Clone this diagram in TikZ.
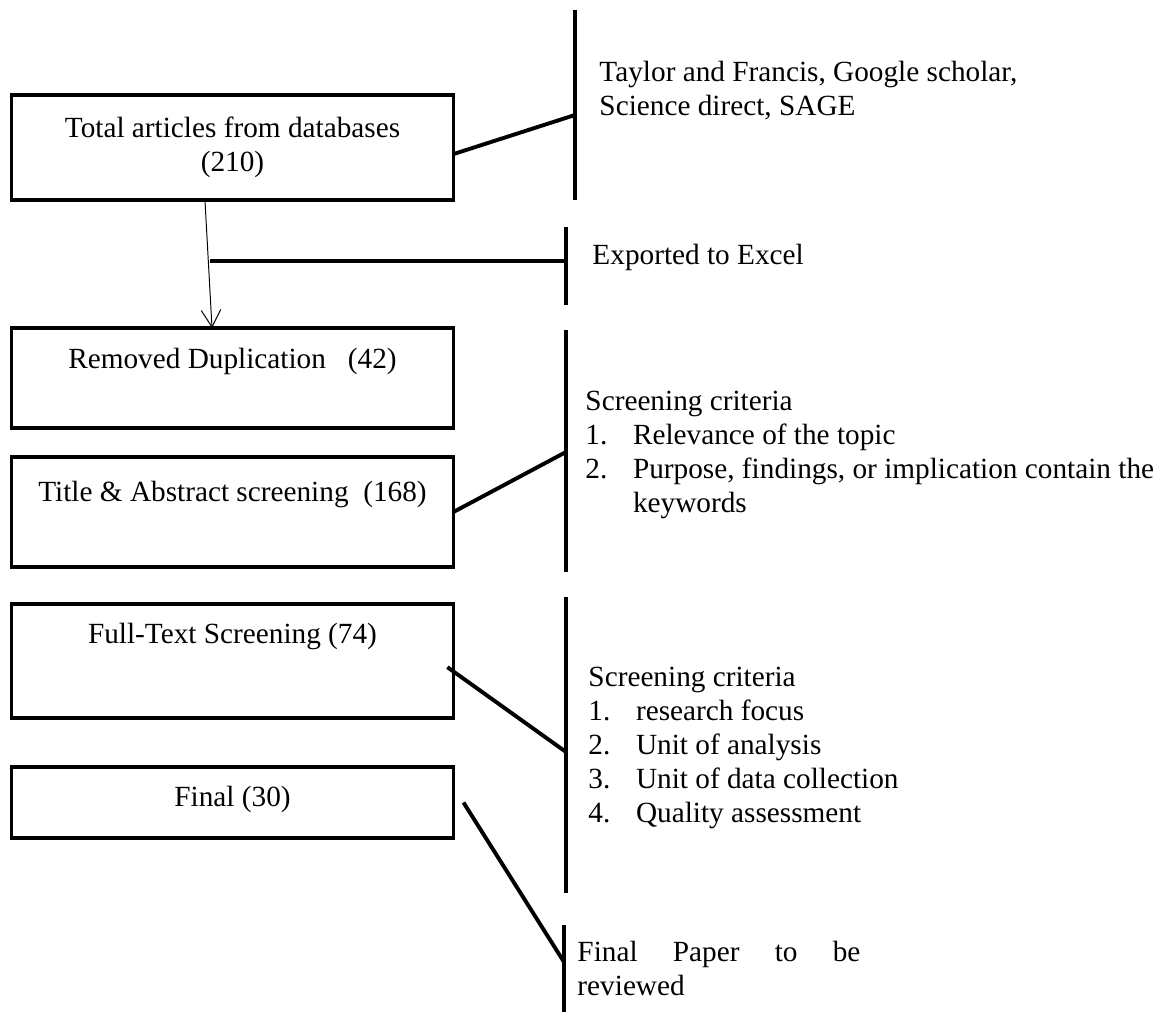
\documentclass[tikz,border=0pt]{standalone}
\usepackage{fontspec}
\setmainfont{Liberation Serif}
\usetikzlibrary{arrows.meta, positioning}

\newcommand{\critno}[1]{\makebox[19.5pt][l]{#1}}

\tikzset{
    stage/.style={draw, line width=1.6pt, outer sep=0pt, inner ysep=0pt, minimum width=181.2pt, align=center},
    link/.style={line width=1.6pt},
    bar/.style={line width=1.6pt},
    note/.style={inner sep=0pt, align=left, anchor=north west},
}

\begin{document}
\begin{tikzpicture}[x=0.41pt, y=-0.41pt, font=\fontsize{12}{13.9}\selectfont]
    \useasboundingbox (0,0) rectangle (1160,1012);

    \node[stage, minimum height=43pt] (Tot) at (232.5,147.5) {Total articles from databases\\(210)};
    \node[stage, below=52.5pt of Tot, text height=16.6pt, text depth=24.4pt] (Dup) {Removed Duplication\hspace{9pt}(42)};
    \node[stage, below=11.9pt of Dup, text height=18.3pt, text depth=26.8pt] (Abs) {Title \& Abstract screening\hspace{6pt}(168)};
    \node[stage, below=15.2pt of Abs, text height=16.2pt, text depth=30.5pt] (Full) {Full-Text Screening (74)};
    \node[stage, below=20.1pt of Full, text height=16.2pt, text depth=12.9pt] (Fin) {Final (30)};

    \coordinate (S1a) at (575,10);  \coordinate (S1b) at (575,200);  \coordinate (J1) at (575,115);
    \coordinate (S2a) at (566,227); \coordinate (S2b) at (566,305);  \coordinate (J2) at (566,261);
    \coordinate (S3a) at (566,330); \coordinate (S3b) at (566,572);  \coordinate (J3) at (566,452);
    \coordinate (S4a) at (566,597); \coordinate (S4b) at (566,893);  \coordinate (J4) at (566,752);
    \coordinate (S5a) at (564,925); \coordinate (S5b) at (564,1012); \coordinate (J5) at (564,962);
    \coordinate (E0) at (210,261);

    \draw[bar] (S1a) -- (S1b);
    \draw[bar] (S2a) -- (S2b);
    \draw[bar] (S3a) -- (S3b);
    \draw[bar] (S4a) -- (S4b);
    \draw[bar] (S5a) -- (S5b);

    \draw[line width=0.4pt, -{Straight Barb[length=7pt,width=8pt]}] ([xshift=-11.3pt]Tot.south) -- ([xshift=-8.4pt]Dup.north);
    \draw[link] ([yshift=-2.7pt]Tot.east) -- (J1);
    \draw[link] (E0) -- (J2);
    \draw[link] (Abs.east) -- (J3);
    \draw[link] ([shift={(-2.5pt,-2.5pt)}]Full.east) -- (J4);
    \draw[link] ([xshift=4.1pt]Fin.east) -- (J5);

    \node[note] (Src) at (599,61) {Taylor and Francis, Google scholar,\\Science direct, SAGE};
    \node[note, anchor=west] (Exc) at (592,257) {Exported to Excel};
    \node[note] (Crit1) at (585,391) {Screening criteria\\\critno{1.}Relevance of the topic\\\critno{2.}Purpose, findings, or implication contain the\\\hspace*{19.5pt}keywords};
    \node[note] (Crit2) at (588,667) {Screening criteria\\\critno{1.}research focus\\\critno{2.}Unit of analysis\\\critno{3.}Unit of data collection\\\critno{4.}Quality assessment};
    \node[note] (Rev) at (577,941) {\makebox[116pt][s]{Final Paper to be}\\reviewed};
\end{tikzpicture}
\end{document}
